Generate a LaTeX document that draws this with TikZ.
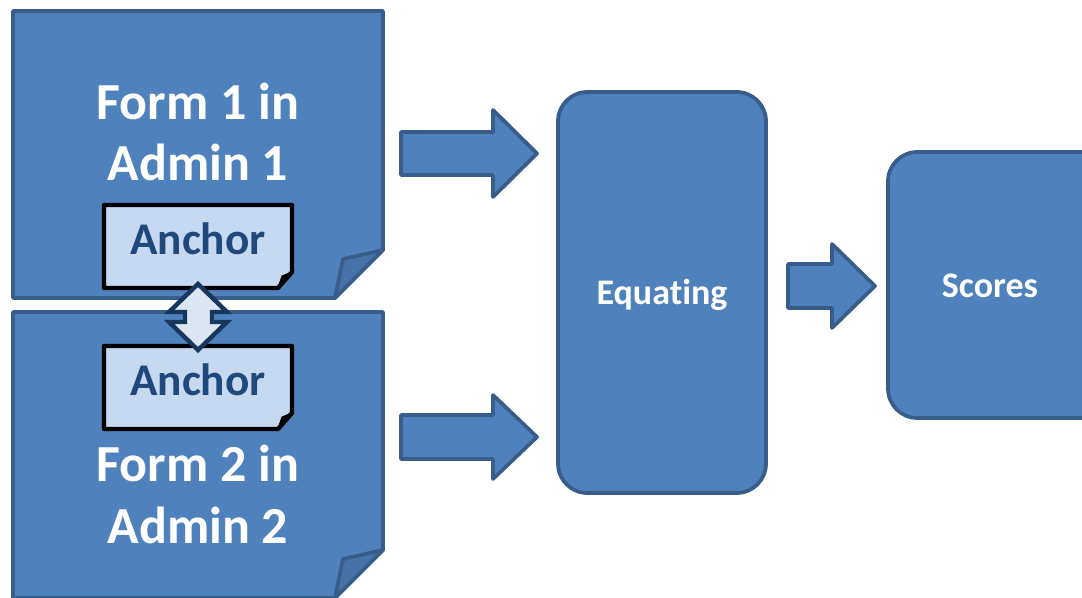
\documentclass[tikz,border=0pt]{standalone}
\usepackage{fontspec}
\setmainfont{Carlito}[Ligatures=NoCommon]

\definecolor{boxfill}{HTML}{4F81BD}
\definecolor{boxline}{HTML}{385D8A}
\definecolor{flapfill}{HTML}{4672AA}
\definecolor{anchorfill}{HTML}{C6D9F1}
\definecolor{anchortext}{HTML}{1F497D}
\definecolor{linkfill}{HTML}{DCE6F2}
\definecolor{linkline}{HTML}{17375E}

\tikzset{every picture/.style={line width=0.75pt}}
\tikzset{
	blockshape/.style={draw=boxline, fill=boxfill, line width=2.8pt, line join=round},
	flapshape/.style={draw=boxline, fill=flapfill, line width=2.8pt, line join=round},
	anchorshape/.style={draw=black, fill=anchorfill, line width=3.3pt, line join=round},
	formtext/.style={text=white, align=center, font=\fontsize{39}{46}\selectfont\bfseries},
	anchorlabel/.style={text=anchortext, font=\fontsize{34}{40}\selectfont\bfseries},
	steptext/.style={text=white, font=\fontsize{27}{32}\selectfont\bfseries}}

\begin{document}
\begin{tikzpicture}[x=0.75pt,y=0.75pt,yscale=-1,xscale=1]
	\useasboundingbox (0,0) rectangle (1082,598);

	%Shape: Folded Corner [id:form1]
	\draw [blockshape] (13,11) -- (383,11) -- (383,250) -- (335,298) -- (13,298) -- cycle ;
	\draw [flapshape] (383,250) -- (343,259) -- (335,298) -- cycle ;
	%Shape: Folded Corner [id:form2]
	\draw [blockshape] (13,312) -- (383,312) -- (383,550) -- (335,598) -- (13,598) -- cycle ;
	\draw [flapshape] (383,550) -- (343,559) -- (335,598) -- cycle ;

	%Shape: Folded Corner [id:anchor1]
	\draw [anchorshape] (104,205) -- (292,205) -- (292,272) -- (278,288) -- (104,288) -- cycle ;
	\draw [fill=black] (292,272) -- (282,276) -- (278,288) -- cycle ;
	%Shape: Folded Corner [id:anchor2]
	\draw [anchorshape] (104,346) -- (292,346) -- (292,413) -- (278,429) -- (104,429) -- cycle ;
	\draw [fill=black] (292,413) -- (282,417) -- (278,429) -- cycle ;

	%Shape: Up Down Arrow [id:link]
	\draw [draw=linkline, fill=linkfill, line width=3.3pt, line join=miter] (198,284) -- (227,312) -- (212,312) -- (212,322) -- (227,322) -- (198,350) -- (169,322) -- (185,322) -- (185,312) -- (169,312) -- cycle ;

	%Shape: Right Arrow [id:arrow1]
	\draw [blockshape] (401,132) -- (493,132) -- (493,110) -- (537,153.5) -- (493,197) -- (493,175) -- (401,175) -- cycle ;
	%Shape: Right Arrow [id:arrow2]
	\draw [blockshape] (401,415) -- (493,415) -- (493,395) -- (537,437) -- (493,479) -- (493,459) -- (401,459) -- cycle ;
	%Shape: Right Arrow [id:arrow3]
	\draw [blockshape] (788,264) -- (832,264) -- (832,244) -- (875,286) -- (832,328) -- (832,308) -- (788,308) -- cycle ;

	%Shape: Rounded Rect [id:equating]
	\draw [blockshape, rounded corners=22pt] (558,92) rectangle (766,493) ;
	%Shape: Rounded Rect [id:scores]
	\draw [blockshape, rounded corners=22pt] (888,152) rectangle (1110,418) ;

	% Text Node
	\node [formtext, anchor=base] (form1) at (198,181) {Form 1 in\\Admin 1};
	% Text Node
	\node [formtext, anchor=base] (form2) at (198,543) {Form 2 in\\Admin 2};
	% Text Node
	\node [anchorlabel, anchor=base] (anchor1) at (198,255) {Anchor};
	% Text Node
	\node [anchorlabel, anchor=base] (anchor2) at (198,396) {Anchor};
	% Text Node
	\node [steptext, anchor=base] (equating) at (662,305) {Equating};
	% Text Node
	\node [steptext, anchor=base] (scores) at (990,298) {Scores};

\end{tikzpicture}
\end{document}
